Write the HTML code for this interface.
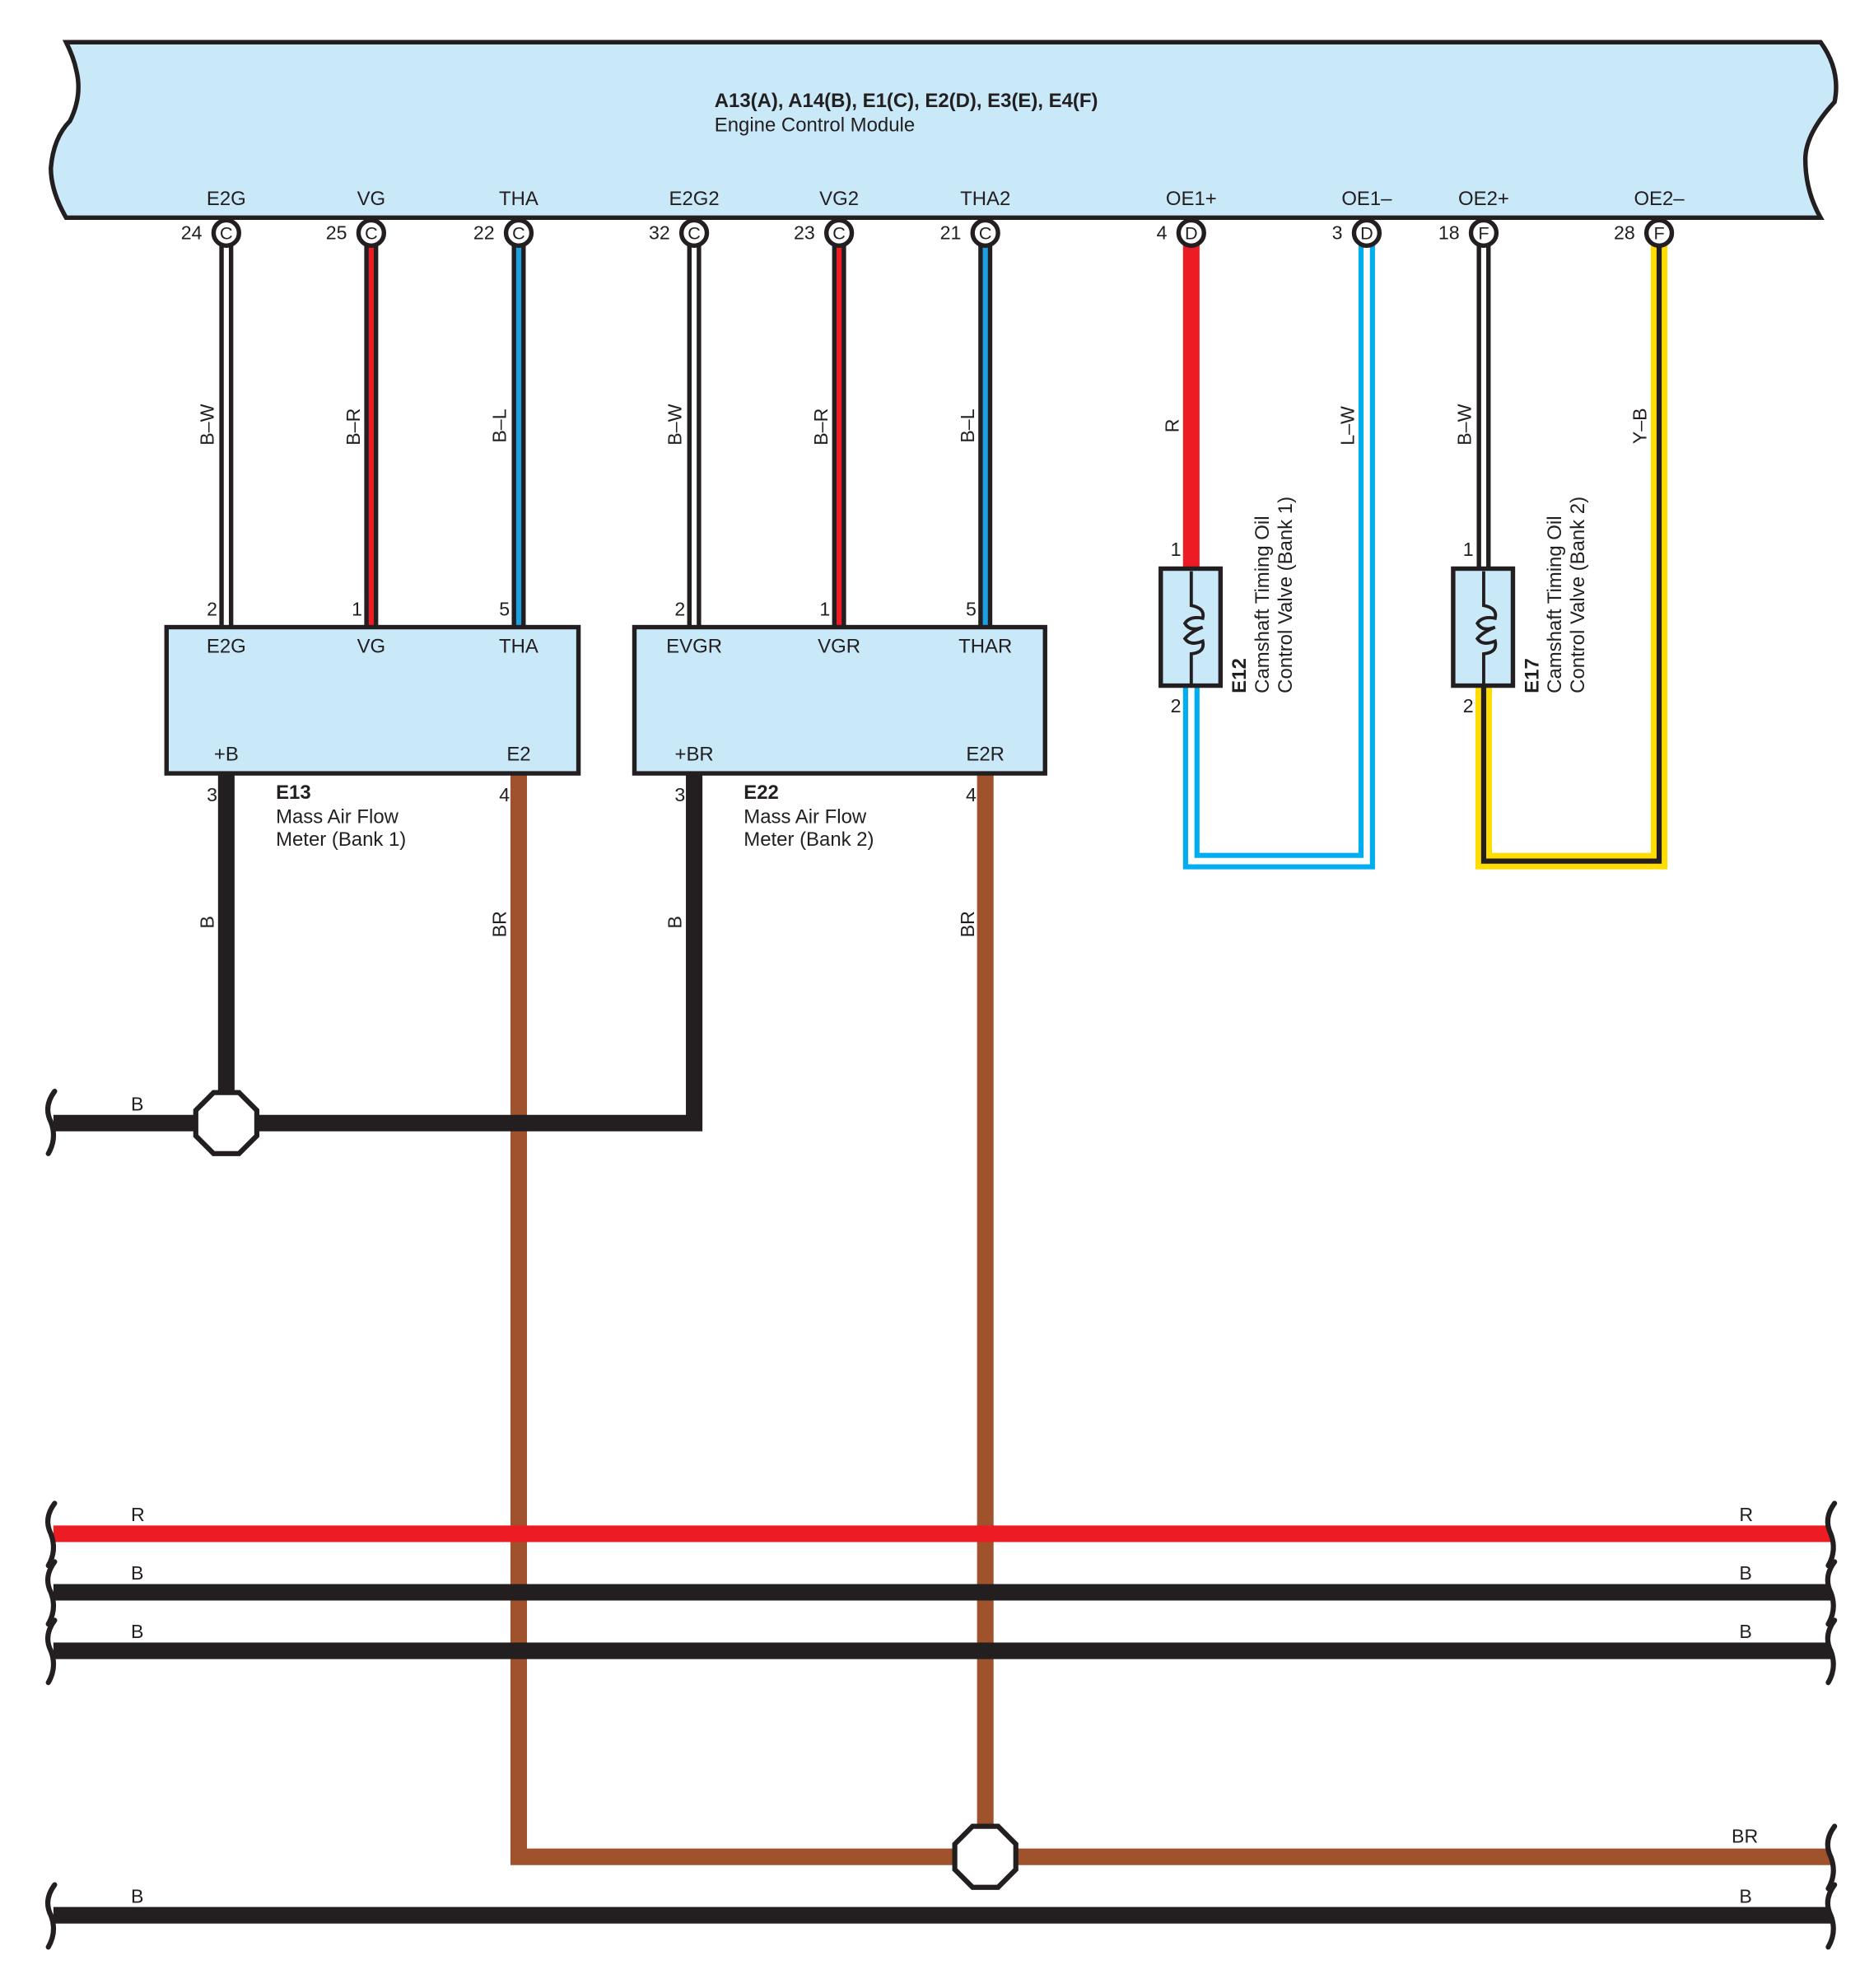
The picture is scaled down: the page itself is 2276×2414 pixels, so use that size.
<!DOCTYPE html>
<html><head><meta charset="utf-8"><style>
html,body{margin:0;padding:0;background:#fff;}
svg{display:block;}
text{font-family:"Liberation Sans",sans-serif;fill:#231f20;}
</style></head><body>
<svg width="2276" height="2414" viewBox="0 0 1474 1563" xmlns="http://www.w3.org/2000/svg">
<!-- ECM -->
<path d="M52,33 L1432,33 Q1448,55 1443,80 Q1420,105 1420,125 Q1420,150 1432,171 L52,171 Q40,150 40,132 Q42,108 55,95 Q65,75 60,55 Q58,45 52,33 Z" fill="#c9e8f8" stroke="#231f20" stroke-width="3.5"/>
<text x="562" y="84" font-size="15.5" font-weight="bold">A13(A), A14(B), E1(C), E2(D), E3(E), E4(F)</text>
<text x="562" y="103" font-size="15.5">Engine Control Module</text>
<g font-size="15.5" text-anchor="middle">
<text x="178" y="161">E2G</text><text x="292" y="161">VG</text><text x="408" y="161">THA</text>
<text x="546" y="161">E2G2</text><text x="660" y="161">VG2</text><text x="775" y="161">THA2</text>
<text x="937" y="161">OE1+</text><text x="1075" y="161">OE1–</text><text x="1167" y="161">OE2+</text><text x="1305" y="161">OE2–</text>
</g>
<!-- wires ECM to MAF -->
<g stroke-linecap="butt">
<line x1="178" y1="190" x2="178" y2="493" stroke="#231f20" stroke-width="11"/><line x1="178" y1="190" x2="178" y2="493" stroke="#fff" stroke-width="4"/>
<line x1="292" y1="190" x2="292" y2="493" stroke="#231f20" stroke-width="11"/><line x1="292" y1="190" x2="292" y2="493" stroke="#ed1c24" stroke-width="4"/>
<line x1="408" y1="190" x2="408" y2="493" stroke="#231f20" stroke-width="11"/><line x1="408" y1="190" x2="408" y2="493" stroke="#1ba1e2" stroke-width="4"/>
<line x1="546" y1="190" x2="546" y2="493" stroke="#231f20" stroke-width="11"/><line x1="546" y1="190" x2="546" y2="493" stroke="#fff" stroke-width="4"/>
<line x1="660" y1="190" x2="660" y2="493" stroke="#231f20" stroke-width="11"/><line x1="660" y1="190" x2="660" y2="493" stroke="#ed1c24" stroke-width="4"/>
<line x1="775" y1="190" x2="775" y2="493" stroke="#231f20" stroke-width="11"/><line x1="775" y1="190" x2="775" y2="493" stroke="#1ba1e2" stroke-width="4"/>
<!-- OE1 -->
<line x1="937" y1="190" x2="937" y2="447" stroke="#ed1c24" stroke-width="13"/>
<path d="M937,539 L937,677 L1075,677 L1075,190" fill="none" stroke="#00aeef" stroke-width="13"/>
<path d="M937,539 L937,677 L1075,677 L1075,190" fill="none" stroke="#fff" stroke-width="5"/>
<!-- OE2 -->
<line x1="1167" y1="190" x2="1167" y2="447" stroke="#231f20" stroke-width="11"/><line x1="1167" y1="190" x2="1167" y2="447" stroke="#fff" stroke-width="4"/>
<path d="M1167,539 L1167,677 L1305,677 L1305,190" fill="none" stroke="#ffdd00" stroke-width="13"/>
<path d="M1167,539 L1167,677 L1305,677 L1305,190" fill="none" stroke="#231f20" stroke-width="4"/>
</g>
<!-- connector circles -->
<g fill="#fff" stroke="#231f20" stroke-width="3.5">
<circle cx="178" cy="183" r="10"/><circle cx="292" cy="183" r="10"/><circle cx="408" cy="183" r="10"/>
<circle cx="546" cy="183" r="10"/><circle cx="660" cy="183" r="10"/><circle cx="775" cy="183" r="10"/>
<circle cx="937" cy="183" r="10"/><circle cx="1075" cy="183" r="10"/><circle cx="1167" cy="183" r="10"/><circle cx="1305" cy="183" r="10"/>
</g>
<g font-size="14" text-anchor="middle">
<text x="178" y="188">C</text><text x="292" y="188">C</text><text x="408" y="188">C</text>
<text x="546" y="188">C</text><text x="660" y="188">C</text><text x="775" y="188">C</text>
<text x="937" y="188">D</text><text x="1075" y="188">D</text><text x="1167" y="188">F</text><text x="1305" y="188">F</text>
</g>
<g font-size="15" text-anchor="end">
<text x="159" y="188">24</text><text x="273" y="188">25</text><text x="389" y="188">22</text>
<text x="527" y="188">32</text><text x="641" y="188">23</text><text x="756" y="188">21</text>
<text x="918" y="188">4</text><text x="1056" y="188">3</text><text x="1148" y="188">18</text><text x="1286" y="188">28</text>
<text x="171" y="484">2</text><text x="285" y="484">1</text><text x="401" y="484">5</text>
<text x="539" y="484">2</text><text x="653" y="484">1</text><text x="768" y="484">5</text>
<text x="171" y="630">3</text><text x="401" y="630">4</text><text x="539" y="630">3</text><text x="768" y="630">4</text>
<text x="929" y="437">1</text><text x="929" y="560">2</text><text x="1159" y="437">1</text><text x="1159" y="560">2</text>
</g>
<!-- rotated wire labels -->
<g font-size="15">
<text transform="translate(168,350) rotate(-90)">B–W</text>
<text transform="translate(283,350) rotate(-90)">B–R</text>
<text transform="translate(398,348) rotate(-90)">B–L</text>
<text transform="translate(536,350) rotate(-90)">B–W</text>
<text transform="translate(651,350) rotate(-90)">B–R</text>
<text transform="translate(766,348) rotate(-90)">B–L</text>
<text transform="translate(927,340) rotate(-90)">R</text>
<text transform="translate(1065,350) rotate(-90)">L–W</text>
<text transform="translate(1157,350) rotate(-90)">B–W</text>
<text transform="translate(1295,349) rotate(-90)">Y–B</text>
<text transform="translate(168,730) rotate(-90)">B</text>
<text transform="translate(398,737) rotate(-90)">BR</text>
<text transform="translate(536,730) rotate(-90)">B</text>
<text transform="translate(766,737) rotate(-90)">BR</text>
</g>
<!-- lower wires -->
<g fill="none" stroke-linecap="butt">
<path d="M408,608 L408,1460 L1440,1460" stroke="#a0522d" stroke-width="13"/>
<line x1="775" y1="608" x2="775" y2="1460" stroke="#a0522d" stroke-width="13"/>
<line x1="42" y1="1206" x2="1440" y2="1206" stroke="#ed1c24" stroke-width="13"/>
<line x1="42" y1="1252" x2="1440" y2="1252" stroke="#231f20" stroke-width="13"/>
<line x1="42" y1="1298" x2="1440" y2="1298" stroke="#231f20" stroke-width="13"/>
<line x1="42" y1="1506" x2="1440" y2="1506" stroke="#231f20" stroke-width="13"/>
<path d="M42,883 L546,883 L546,608" stroke="#231f20" stroke-width="13"/>
<line x1="178" y1="608" x2="178" y2="883" stroke="#231f20" stroke-width="13"/>
</g>
<!-- wave breaks -->
<g fill="none" stroke="#231f20" stroke-width="4" stroke-linecap="round">
<path d="M43,858 Q34,870 40,882 Q45,895 38,907"/>
<path d="M43,1182 Q34,1194 40,1206 Q45,1219 38,1231"/>
<path d="M43,1228 Q34,1240 40,1252 Q45,1265 38,1277"/>
<path d="M43,1274 Q34,1286 40,1298 Q45,1311 38,1323"/>
<path d="M43,1482 Q34,1494 40,1506 Q45,1519 38,1531"/>
<path d="M1443,1182 Q1434,1194 1440,1206 Q1445,1219 1438,1231"/>
<path d="M1443,1228 Q1434,1240 1440,1252 Q1445,1265 1438,1277"/>
<path d="M1443,1274 Q1434,1286 1440,1298 Q1445,1311 1438,1323"/>
<path d="M1443,1436 Q1434,1448 1440,1460 Q1445,1473 1438,1485"/>
<path d="M1443,1482 Q1434,1494 1440,1506 Q1445,1519 1438,1531"/>
</g>
<!-- junctions -->
<polygon points="168,859 188,859 202,873 202,893 188,907 168,907 154,893 154,873" fill="#fff" stroke="#231f20" stroke-width="4"/>
<polygon points="765,1436 785,1436 799,1450 799,1470 785,1484 765,1484 751,1470 751,1450" fill="#fff" stroke="#231f20" stroke-width="4"/>
<g font-size="15">
<text x="103" y="873">B</text>
<text x="103" y="1196">R</text><text x="1368" y="1196">R</text>
<text x="103" y="1242">B</text><text x="1368" y="1242">B</text>
<text x="103" y="1288">B</text><text x="1368" y="1288">B</text>
<text x="1362" y="1449">BR</text>
<text x="103" y="1496">B</text><text x="1368" y="1496">B</text>
</g>
<!-- MAF boxes -->
<rect x="131" y="493" width="324" height="115" fill="#c9e8f8" stroke="#231f20" stroke-width="3.5"/>
<rect x="499" y="493" width="323" height="115" fill="#c9e8f8" stroke="#231f20" stroke-width="3.5"/>
<g font-size="15.5" text-anchor="middle">
<text x="178" y="513">E2G</text><text x="292" y="513">VG</text><text x="408" y="513">THA</text>
<text x="178" y="598">+B</text><text x="408" y="598">E2</text>
<text x="546" y="513">EVGR</text><text x="660" y="513">VGR</text><text x="775" y="513">THAR</text>
<text x="546" y="598">+BR</text><text x="775" y="598">E2R</text>
</g>
<g font-size="15.5">
<text x="217" y="628" font-weight="bold">E13</text><text x="217" y="647">Mass Air Flow</text><text x="217" y="665">Meter (Bank 1)</text>
<text x="585" y="628" font-weight="bold">E22</text><text x="585" y="647">Mass Air Flow</text><text x="585" y="665">Meter (Bank 2)</text>
</g>
<!-- solenoid boxes -->
<g stroke="#231f20" stroke-width="3.5" fill="#c9e8f8">
<rect x="913" y="447" width="47" height="92"/>
<rect x="1143" y="447" width="47" height="92"/>
</g>
<g fill="none" stroke="#231f20" stroke-width="2.5">
<path d="M937,449 L937,476 Q948,478 946,486 Q936,484 932,490 Q936,497 946,493 Q936,497 932,502 Q936,508 946,504 Q948,513 937,514 L937,538"/>
<path d="M1167,449 L1167,476 Q1178,478 1176,486 Q1166,484 1162,490 Q1166,497 1176,493 Q1166,497 1162,502 Q1166,508 1176,504 Q1178,513 1167,514 L1167,538"/>
</g>
<g font-size="15.5">
<text transform="translate(980,545) rotate(-90)" font-weight="bold">E12</text>
<text transform="translate(998,545) rotate(-90)">Camshaft Timing Oil</text>
<text transform="translate(1016,545) rotate(-90)">Control Valve (Bank 1)</text>
<text transform="translate(1210,545) rotate(-90)" font-weight="bold">E17</text>
<text transform="translate(1228,545) rotate(-90)">Camshaft Timing Oil</text>
<text transform="translate(1246,545) rotate(-90)">Control Valve (Bank 2)</text>
</g>
</svg>
</body></html>
